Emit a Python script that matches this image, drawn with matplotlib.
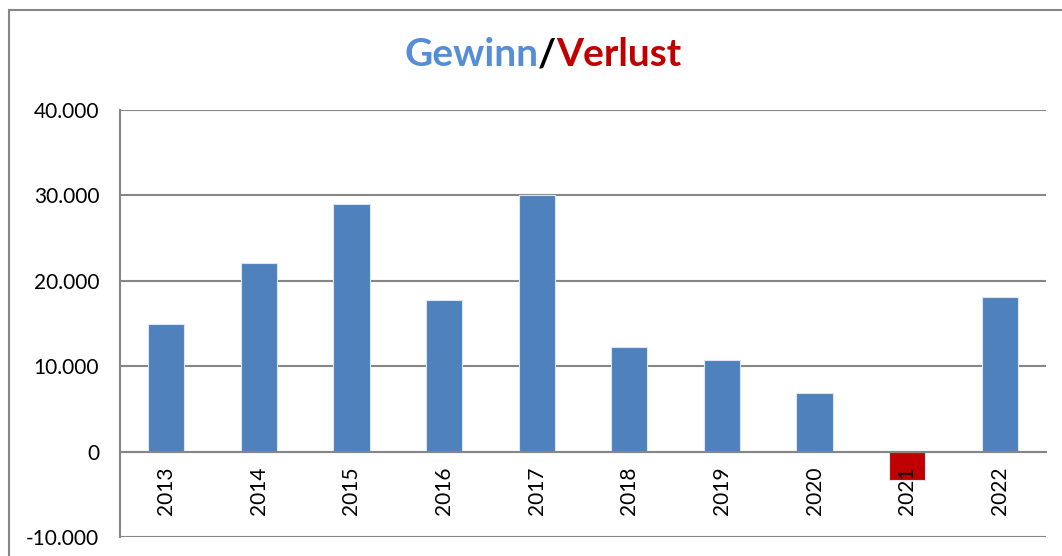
import matplotlib
matplotlib.use("Agg")
import matplotlib.pyplot as plt
from matplotlib.patches import Rectangle
from matplotlib.ticker import FuncFormatter

years = ["2013", "2014", "2015", "2016", "2017", "2018", "2019", "2020", "2021", "2022"]
values = [15000, 22100, 29000, 17700, 30000, 12300, 10700, 6900, -3300, 18100]
yticks = [-10000, 0, 10000, 20000, 30000, 40000]

BLUE = "#4F81BD"
RED = "#C00000"
GRID = "#868686"

plt.rcParams["font.family"] = ["Lato", "DejaVu Sans"]

W, H = 1062, 556
fig = plt.figure(figsize=(W / 100, H / 100), dpi=100)
ax = fig.add_axes([120 / W, 1 - 537 / H, (1046 - 120) / W, (537 - 110) / H])

colors = [RED if v < 0 else BLUE for v in values]
x = list(range(len(years)))
ax.bar(x, values, width=0.39, color=colors, edgecolor="#DCE6F2", linewidth=0.8, zorder=3)

ax.set_xlim(-0.5, len(years) - 0.5)
ax.set_ylim(-10000, 40000)

ax.spines["bottom"].set_position(("data", 0))
ax.spines["bottom"].set_color(GRID)
ax.spines["bottom"].set_linewidth(1.5)
ax.spines["bottom"].set_zorder(4)
ax.spines["left"].set_color(GRID)
ax.spines["left"].set_linewidth(1.5)
ax.spines["top"].set_visible(False)
ax.spines["right"].set_visible(False)

ax.set_yticks(yticks)
ax.yaxis.set_major_formatter(FuncFormatter(lambda v, p: f"{int(v):,}".replace(",", ".")))
ax.grid(axis="y", color=GRID, linewidth=1.5)
ax.set_xticks(x)
ax.set_xticklabels(years, rotation=90, fontsize=15, va="top")
ax.tick_params(axis="x", length=0, pad=11)
ax.tick_params(axis="y", length=0, pad=15, labelsize=15)
ax.yaxis.set_zorder(0.5)
ax.xaxis.set_zorder(5)

# Title with colored parts
ty = 1 - 55 / H
fig.canvas.draw()
r = fig.canvas.get_renderer()
parts = [("Gewinn", "#558ED5"), ("/", "#000000"), ("Verlust", RED)]
texts = []
widths = []
for s, c in parts:
    t = fig.text(0, ty, s, color=c, fontsize=28, fontweight="bold", ha="left", va="center")
    bb = t.get_window_extent(renderer=r)
    texts.append(t)
    widths.append(bb.width)
total = sum(widths)
start = 543 - total / 2
for t, w in zip(texts, widths):
    t.set_x(start / W)
    start += w

fig.patches.append(Rectangle((9 / W, -0.1), 1.2, 1 - 10 / H + 0.1, transform=fig.transFigure,
                             fill=False, edgecolor=GRID, linewidth=1.5))

fig.savefig("out.png", dpi=100)
